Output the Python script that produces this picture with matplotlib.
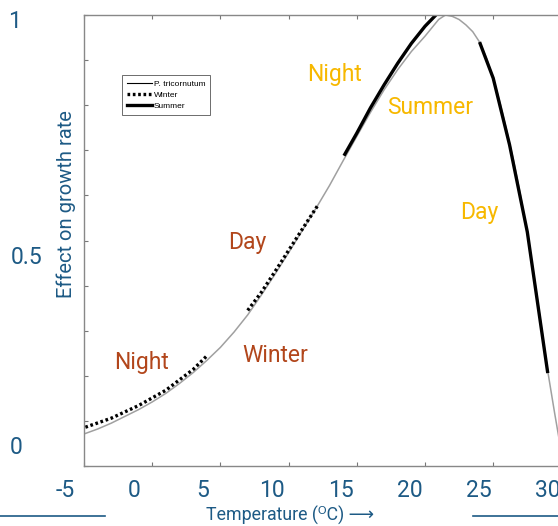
import matplotlib.pyplot as plt
from matplotlib.lines import Line2D

# P. tricornutum temperature response curve
temp = [-5.0, -4.0, -3.0, -2.0, -1.0, 0.0, 1.0, 2.0, 3.0, 4.0, 5.0, 6.0,
        7.0, 8.0, 9.0, 10.0, 11.0, 12.0, 13.0, 14.0, 15.0, 16.0, 17.0,
        18.0, 19.0, 20.0, 21.0, 21.5, 22.0, 22.5, 23.0, 23.5, 24.0, 24.5,
        25.0, 25.5, 26.0, 26.5, 27.0, 27.5, 28.0, 28.5, 29.0, 29.5, 30.0,
        30.2]
effect = [0.071, 0.082, 0.095, 0.110, 0.125, 0.142, 0.161, 0.183, 0.207,
          0.234, 0.263, 0.297, 0.335, 0.379, 0.425, 0.473, 0.522, 0.571,
          0.622, 0.677, 0.731, 0.784, 0.834, 0.879, 0.919, 0.953, 0.990,
          1.0, 0.997, 0.990, 0.978, 0.963, 0.940, 0.905, 0.860, 0.805,
          0.742, 0.676, 0.600, 0.517, 0.420, 0.315, 0.210, 0.118, 0.030,
          0.0]

# winter temperature ranges (night, day)
winter_night_t = [-4.9, -3.0, -1.0, 1.0, 3.0, 4.0]
winter_night_e = [0.086, 0.106, 0.134, 0.168, 0.214, 0.244]
winter_day_t = [7.0, 8.0, 9.0, 10.0, 11.0, 12.1]
winter_day_e = [0.345, 0.385, 0.431, 0.478, 0.525, 0.576]

# summer temperature ranges (night, day)
summer_night_t = [14.06, 15.0, 16.0, 17.0, 18.0, 19.0, 20.0, 20.8]
summer_night_e = [0.688, 0.738, 0.794, 0.845, 0.893, 0.937, 0.975, 1.0]
summer_day_t = [24.0, 25.0, 26.2, 27.5, 29.0]
summer_day_e = [0.940, 0.860, 0.712, 0.519, 0.206]

# slide labels
x_labels = ['-5', '0', '5', '10', '15', '20', '25', '30']
x_label_vals = [-5, 0, 5, 10, 15, 20, 25, 30]
y_labels = ['1', '0.5', '0']

blue = '#1d5a85'
brown = '#b2461b'
gold = '#f7b800'
big_font = ['Roboto', 'DejaVu Sans']

W, H = 558, 526
fig = plt.figure(figsize=(W / 100, H / 100), dpi=100)


def px(x, y):
    # pixel position (from top-left) to figure fraction
    return x / W, 1 - y / H


# inner plot
ax = fig.add_axes([84 / W, 60 / H, 545.6 / W, 451 / H])
ax.plot(temp, effect, color='#a0a0a0', lw=1.1)
ax.plot(winter_night_t, winter_night_e, color='black', lw=2.4, ls=(0, (0.8, 0.8)))
ax.plot(winter_day_t, winter_day_e, color='black', lw=2.4, ls=(0, (0.8, 0.8)))
ax.plot(summer_night_t, summer_night_e, color='black', lw=2.4, solid_capstyle='butt')
ax.plot(summer_day_t, summer_day_e, color='black', lw=2.4, solid_capstyle='butt')
ax.set_xlim(-5, 35)
ax.set_ylim(0, 1)
ax.set_xticks(range(-5, 36, 5))
ax.set_yticks([i / 10 for i in range(11)])
ax.tick_params(direction='in', length=3, width=0.8, color='#777777',
               top=True, right=True, labelbottom=False, labelleft=False)
for s in ax.spines.values():
    s.set_color('#888888')
    s.set_linewidth(1.0)

handles = [Line2D([], [], color='black', lw=0.8),
           Line2D([], [], color='black', lw=2.4, ls=(0, (0.8, 0.8))),
           Line2D([], [], color='black', lw=2.4)]
leg = ax.legend(handles, ['P. tricornutum', 'Winter', 'Summer'],
                loc='upper left', bbox_to_anchor=(0.062, 0.876),
                handlelength=3.0, handletextpad=0.3,
                labelspacing=0.42, borderpad=0.55, fancybox=False,
                framealpha=1, edgecolor='#555555',
                prop={'family': 'Liberation Sans', 'size': 6})
leg.get_frame().set_linewidth(0.6)

# slide axis labels
lab = fig.add_axes([65 / W, 1 - 479 / H, (548 - 65) / W, 0.001])
lab.set_xlim(-5, 30)
lab.set_xticks(x_label_vals)
lab.set_xticklabels(x_labels, fontsize=16.5, color=blue, family=big_font)
lab.tick_params(length=0, pad=0)
lab.set_yticks([])
for s in lab.spines.values():
    s.set_visible(False)
lab.patch.set_alpha(0)

for txt, (x, y) in zip(y_labels, [(15, 22), (27, 258), (16, 448)]):
    fig.text(*px(x, y), txt, fontsize=16.5, color=blue, family=big_font,
             ha='center', va='center')

fig.text(*px(66, 204), 'Effect on growth rate', rotation=90, fontsize=14.5,
         color=blue, family=big_font, ha='center', va='center')
fig.text(*px(290, 515), 'Temperature (ᴼC) ⟶', fontsize=12.8, color=blue,
         family=big_font, ha='center', va='center')
fig.add_artist(Line2D([0, 105 / W], [1 - 516 / H] * 2, color=blue, lw=1.2))
fig.add_artist(Line2D([473 / W, 1], [1 - 516 / H] * 2, color=blue, lw=1.2))

# season annotations
notes = [('Night', 142, 362, brown), ('Winter', 275, 355, brown),
         ('Day', 247, 242, brown), ('Night', 335, 75, gold),
         ('Summer', 430, 107, gold), ('Day', 479, 212, gold)]
for txt, x, y, c in notes:
    fig.text(*px(x, y), txt, fontsize=16.5, color=c, family=big_font,
             ha='center', va='center')

fig.savefig('out.png', dpi=100)
